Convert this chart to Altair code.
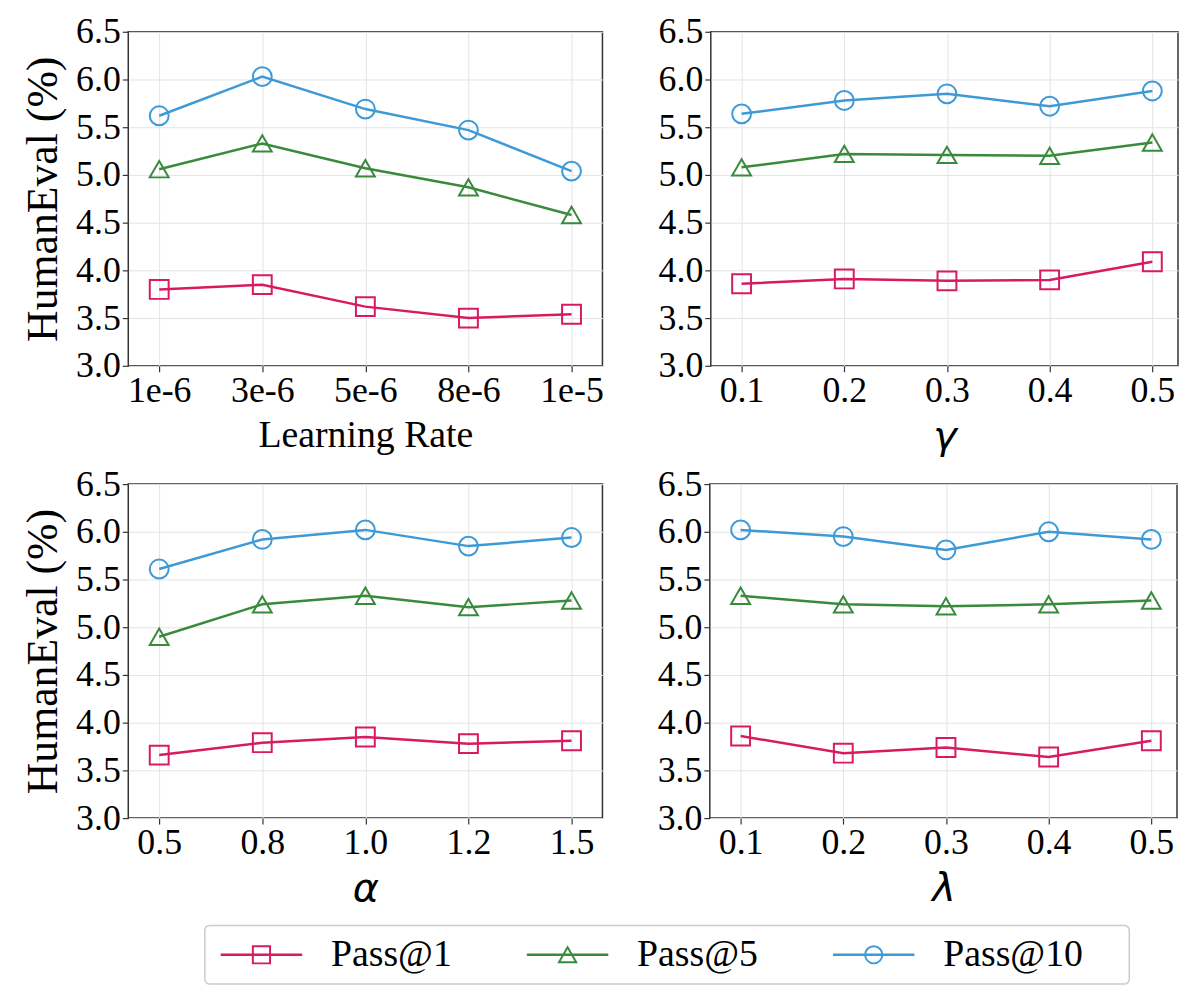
import altair as alt
import pandas as pd

SERIES = ["Pass@1", "Pass@5", "Pass@10"]
COLORS = ["#D81B60", "#3A8A3C", "#3D9AD6"]
SHAPES = ["square", "triangle-up", "circle"]

lr_labels = ["1e-6", "3e-6", "5e-6", "8e-6", "1e-5"]
lr_pass1 = [3.80, 3.85, 3.62, 3.50, 3.54]
lr_pass5 = [5.06, 5.33, 5.07, 4.87, 4.58]
lr_pass10 = [5.62, 6.03, 5.69, 5.47, 5.04]

gamma_labels = ["0.1", "0.2", "0.3", "0.4", "0.5"]
gamma_pass1 = [3.86, 3.91, 3.89, 3.90, 4.09]
gamma_pass5 = [5.08, 5.22, 5.21, 5.20, 5.34]
gamma_pass10 = [5.64, 5.78, 5.85, 5.72, 5.88]

alpha_labels = ["0.5", "0.8", "1.0", "1.2", "1.5"]
alpha_pass1 = [3.66, 3.79, 3.85, 3.78, 3.81]
alpha_pass5 = [4.90, 5.24, 5.33, 5.21, 5.28]
alpha_pass10 = [5.61, 5.92, 6.02, 5.85, 5.94]

lambda_labels = ["0.1", "0.2", "0.3", "0.4", "0.5"]
lambda_pass1 = [3.86, 3.68, 3.74, 3.64, 3.81]
lambda_pass5 = [5.33, 5.24, 5.22, 5.24, 5.28]
lambda_pass10 = [6.02, 5.95, 5.81, 6.00, 5.92]

y_ticks = [3.0, 3.5, 4.0, 4.5, 5.0, 5.5, 6.0, 6.5]

SERIF = "Liberation Serif"
GREEK = "DejaVu Sans"

color_scale = alt.Scale(domain=SERIES, range=COLORS)
shape_scale = alt.Scale(domain=SERIES, range=SHAPES)


def panel(labels, p1, p5, p10, xtitle, greek, ytitle, width, dom_hi):
    rows = []
    for s, vals in zip(SERIES, [p1, p5, p10]):
        for i, (lab, v) in enumerate(zip(labels, vals)):
            rows.append({"idx": i, "label": lab, "series": s, "value": v})
    df = pd.DataFrame(rows)
    label_expr = "[" + ",".join(f"'{l}'" for l in labels) + "][datum.value]"
    xaxis = alt.Axis(
        values=list(range(len(labels))),
        labelExpr=label_expr,
        labelFlush=False,
        labelOverlap=False,
        titleFont=GREEK if greek else SERIF,
        titleFontStyle="italic" if greek else "normal",
        titleFontSize=40 if greek else 38,
        titlePadding=8,
    )
    yaxis = alt.Axis(
        values=y_ticks,
        format=".1f",
        labelOverlap=False,
        labelFlush=False,
        titleFont=SERIF,
        titleFontSize=44,
        titlePadding=10,
    )
    x = alt.X("idx:Q", title=xtitle,
              scale=alt.Scale(domain=[-0.3, dom_hi], nice=False, zero=False),
              axis=xaxis)
    if ytitle:
        y = alt.Y("value:Q", title=ytitle,
                  scale=alt.Scale(domain=[3.0, 6.5], nice=False, zero=False),
                  axis=yaxis)
    else:
        y = alt.Y("value:Q", title=None,
                  scale=alt.Scale(domain=[3.0, 6.5], nice=False, zero=False),
                  axis=yaxis)
    base = alt.Chart(df).encode(
        x=x, y=y,
        color=alt.Color("series:N", scale=color_scale, legend=None),
        detail="series:N",
    )
    line = base.mark_line(strokeWidth=2.5)
    pts = base.mark_point(filled=False, size=360, strokeWidth=2, opacity=1).encode(
        shape=alt.Shape("series:N", scale=shape_scale, legend=None)
    )
    return alt.layer(line, pts).properties(width=width, height=336)


p_lr = panel(lr_labels, lr_pass1, lr_pass5, lr_pass10, "Learning Rate", False,
             "HumanEval (%)", 477, 4.3)
p_gamma = panel(gamma_labels, gamma_pass1, gamma_pass5, gamma_pass10, "γ", True,
                None, 470, 4.25)
p_alpha = panel(alpha_labels, alpha_pass1, alpha_pass5, alpha_pass10, "α", True,
                "HumanEval (%)", 477, 4.3)
p_lambda = panel(lambda_labels, lambda_pass1, lambda_pass5, lambda_pass10, "λ", True,
                 None, 470, 4.25)

row1 = alt.hconcat(p_lr, p_gamma, spacing=53)
row2 = alt.hconcat(p_alpha, p_lambda, spacing=53)

# Custom legend; its origin lines up with the left plot's y-axis
LEG_W = 1040
LEG_H = 67
leg_df = pd.DataFrame({"i": [0, 1, 2], "series": SERIES})
lxs = alt.Scale(domain=[-0.435, 2.942], nice=False, zero=False)
leg_y = alt.value(37.5)
leg_base = alt.Chart(leg_df).encode(
    color=alt.Color("series:N", scale=color_scale, legend=None))
leg_lines = leg_base.transform_calculate(
    x1="datum.i - 0.133", x2="datum.i + 0.133"
).mark_rule(strokeWidth=2.5).encode(
    x=alt.X("x1:Q", scale=lxs, axis=None), x2="x2:Q", y=leg_y)
leg_pts = leg_base.mark_point(filled=False, size=300, strokeWidth=2, opacity=1).encode(
    x=alt.X("i:Q", scale=lxs, axis=None), y=leg_y,
    shape=alt.Shape("series:N", scale=shape_scale, legend=None))
leg_txt = alt.Chart(leg_df).transform_calculate(
    xt="datum.i + 0.227"
).mark_text(align="left", baseline="middle", font=SERIF, fontSize=38,
            color="black").encode(
    x=alt.X("xt:Q", scale=lxs, axis=None), y=leg_y, text="series:N")
leg_frame = alt.Chart(pd.DataFrame({"f": [0]})).mark_rect(
    fillOpacity=0, stroke="#cccccc", strokeWidth=1.5, cornerRadius=5
).encode(x=alt.value(77), x2=alt.value(1007), y=alt.value(8), y2=alt.value(LEG_H))
legend = alt.layer(leg_frame, leg_lines, leg_pts, leg_txt).properties(
    width=LEG_W, height=LEG_H,
    view=alt.ViewBackground(strokeOpacity=0))

chart = alt.vconcat(row1, row2, legend, spacing=8).properties(
    padding={"left": 13, "top": 2, "right": 0, "bottom": 0},
    background="white",
).configure_view(
    stroke="#333333", strokeWidth=1.5
).configure_axis(
    labelFont=SERIF, labelFontSize=36, labelColor="black",
    titleColor="black", titleFontWeight="normal",
    tickColor="#333333", tickSize=6, tickWidth=1.2, labelPadding=2,
    domain=False, gridColor="#e4e4e4", gridWidth=1,
)

chart.save("out.html", embed_options={"renderer": "svg", "actions": False})
